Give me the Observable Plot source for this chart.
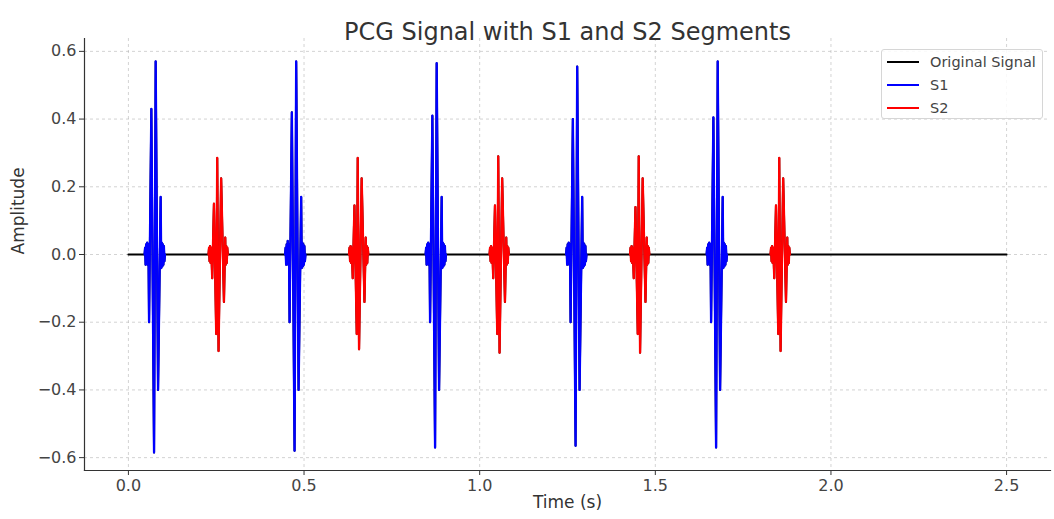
<!DOCTYPE html>
<html>
<head>
<meta charset="utf-8">
<script src="https://cdn.jsdelivr.net/npm/d3@7"></script>
<script src="https://cdn.jsdelivr.net/npm/@observablehq/plot@0.6"></script>
<style>
  html, body { margin: 0; padding: 0; background: white; }
  #wrap { position: relative; width: 1054px; height: 519px; font-family: "DejaVu Sans", sans-serif; }
  #legend { position: absolute; left: 881px; top: 49px; width: 162px; height: 70px;
    border: 1px solid #d6d6d6; border-radius: 3px; background: rgba(255,255,255,0.85);
    font-size: 14.5px; color: #444; box-sizing: border-box; }
  .row { position: absolute; left: 0; height: 20px; display: flex; align-items: center; }
  .sw { width: 32px; height: 2px; margin-left: 5px; margin-right: 11px; }
</style>
</head>
<body>
<div id="wrap">
  <div id="chart"></div>
  <div id="legend"></div>
</div>
<script>
// ---- data ----
const signalStart = 0.0;
const signalEnd = 2.5;

const xTicks = [0.0, 0.5, 1.0, 1.5, 2.0, 2.5];
const yTicks = [-0.6, -0.4, -0.2, 0.0, 0.2, 0.4, 0.6];

// S1 bursts (time in s, amplitude)
const s1Time1 = [0.046, 0.0475, 0.049, 0.0505, 0.052, 0.0535, 0.055, 0.057, 0.0588, 0.0653, 0.073, 0.0776, 0.0844, 0.0918, 0.0935, 0.095, 0.0965, 0.098, 0.0995, 0.101, 0.1025, 0.104];
const s1Amp1  = [0, 0.02, -0.03, 0.03, -0.025, 0.035, -0.03, 0.03, -0.20, 0.43, -0.585, 0.57, -0.40, 0.17, -0.04, 0.035, -0.035, 0.03, -0.03, 0.025, -0.02, 0];
const s1Time2 = [0.446, 0.4475, 0.449, 0.4505, 0.452, 0.4535, 0.455, 0.457, 0.4588, 0.4653, 0.473, 0.4776, 0.4844, 0.4918, 0.4935, 0.495, 0.4965, 0.498, 0.4995, 0.501, 0.5025, 0.504];
const s1Amp2  = [0, 0.02, -0.03, 0.03, -0.025, 0.04, -0.03, 0.03, -0.20, 0.42, -0.58, 0.57, -0.40, 0.17, -0.04, 0.035, -0.035, 0.03, -0.03, 0.025, -0.02, 0];
const s1Time3 = [0.846, 0.8475, 0.849, 0.8505, 0.852, 0.8535, 0.855, 0.857, 0.8588, 0.8653, 0.873, 0.8776, 0.8844, 0.8918, 0.8935, 0.895, 0.8965, 0.898, 0.8995, 0.901, 0.9025, 0.904];
const s1Amp3  = [0, 0.02, -0.03, 0.03, -0.025, 0.035, -0.03, 0.03, -0.20, 0.41, -0.57, 0.565, -0.40, 0.17, -0.04, 0.035, -0.035, 0.03, -0.03, 0.025, -0.02, 0];
const s1Time4 = [1.246, 1.2475, 1.249, 1.2505, 1.252, 1.2535, 1.255, 1.257, 1.2588, 1.2653, 1.273, 1.2776, 1.2844, 1.2918, 1.2935, 1.295, 1.2965, 1.298, 1.2995, 1.301, 1.3025, 1.304];
const s1Amp4  = [0, 0.02, -0.03, 0.03, -0.025, 0.035, -0.03, 0.03, -0.20, 0.40, -0.565, 0.555, -0.40, 0.17, -0.04, 0.035, -0.035, 0.03, -0.03, 0.025, -0.02, 0];
const s1Time5 = [1.646, 1.6475, 1.649, 1.6505, 1.652, 1.6535, 1.655, 1.657, 1.6588, 1.6653, 1.673, 1.6776, 1.6844, 1.6918, 1.6935, 1.695, 1.6965, 1.698, 1.6995, 1.701, 1.7025, 1.704];
const s1Amp5  = [0, 0.02, -0.03, 0.03, -0.025, 0.035, -0.03, 0.03, -0.20, 0.405, -0.57, 0.57, -0.40, 0.17, -0.04, 0.035, -0.035, 0.03, -0.03, 0.025, -0.02, 0];

// S2 bursts
const s2Time1 = [0.228, 0.2295, 0.231, 0.2325, 0.234, 0.2355, 0.237, 0.2386, 0.2435, 0.250, 0.2528, 0.2566, 0.264, 0.272, 0.2756, 0.277, 0.2785, 0.280, 0.2815, 0.283];
const s2Amp1  = [0, 0.02, -0.02, 0.025, -0.025, 0.02, -0.02, -0.07, 0.15, -0.235, 0.285, -0.285, 0.225, -0.14, 0.05, -0.03, 0.025, -0.025, 0.02, 0];
const s2Time2 = [0.628, 0.6295, 0.631, 0.6325, 0.634, 0.6355, 0.637, 0.6386, 0.6435, 0.650, 0.6528, 0.6566, 0.664, 0.672, 0.6756, 0.677, 0.6785, 0.680, 0.6815, 0.683];
const s2Amp2  = [0, 0.02, -0.02, 0.025, -0.025, 0.02, -0.02, -0.07, 0.145, -0.235, 0.285, -0.28, 0.225, -0.14, 0.05, -0.03, 0.025, -0.025, 0.02, 0];
const s2Time3 = [1.028, 1.0295, 1.031, 1.0325, 1.034, 1.0355, 1.037, 1.0386, 1.0435, 1.050, 1.0528, 1.0566, 1.064, 1.072, 1.0756, 1.077, 1.0785, 1.080, 1.0815, 1.083];
const s2Amp3  = [0, 0.02, -0.02, 0.025, -0.025, 0.02, -0.02, -0.07, 0.145, -0.235, 0.29, -0.29, 0.225, -0.14, 0.05, -0.03, 0.025, -0.025, 0.02, 0];
const s2Time4 = [1.428, 1.4295, 1.431, 1.4325, 1.434, 1.4355, 1.437, 1.4386, 1.4435, 1.450, 1.4528, 1.4566, 1.464, 1.472, 1.4756, 1.477, 1.4785, 1.480, 1.4815, 1.483];
const s2Amp4  = [0, 0.02, -0.02, 0.025, -0.025, 0.02, -0.02, -0.07, 0.14, -0.235, 0.29, -0.29, 0.225, -0.14, 0.05, -0.03, 0.025, -0.025, 0.02, 0];
const s2Time5 = [1.828, 1.8295, 1.831, 1.8325, 1.834, 1.8355, 1.837, 1.8386, 1.8435, 1.850, 1.8528, 1.8566, 1.864, 1.872, 1.8756, 1.877, 1.8785, 1.880, 1.8815, 1.883];
const s2Amp5  = [0, 0.02, -0.02, 0.025, -0.025, 0.02, -0.02, -0.07, 0.145, -0.235, 0.285, -0.285, 0.225, -0.14, 0.05, -0.03, 0.025, -0.025, 0.02, 0];

const seriesNames = ["Original Signal", "S1", "S2"];
const seriesColors = ["black", "blue", "red"];

// ---- build tables ----
function rows(times, amps, beat) { return times.map((t, i) => ({t, v: amps[i], beat})); }
const s1 = [
  ...rows(s1Time1, s1Amp1, 1), ...rows(s1Time2, s1Amp2, 2), ...rows(s1Time3, s1Amp3, 3),
  ...rows(s1Time4, s1Amp4, 4), ...rows(s1Time5, s1Amp5, 5)
];
const s2 = [
  ...rows(s2Time1, s2Amp1, 1), ...rows(s2Time2, s2Amp2, 2), ...rows(s2Time3, s2Amp3, 3),
  ...rows(s2Time4, s2Amp4, 4), ...rows(s2Time5, s2Amp5, 5)
];
const original = [{t: signalStart, v: 0}, ...s1, ...s2, {t: signalEnd, v: 0}].sort((a, b) => a.t - b.t);

const fmt = d3.format(".1f");
const gridStyle = {stroke: "#b0b0b0", strokeOpacity: 0.7, strokeWidth: 0.8, strokeDasharray: "3,3"};

const chart = Plot.plot({
  width: 1054,
  height: 519,
  marginLeft: 84,
  marginRight: 4,
  marginTop: 38,
  marginBottom: 49,
  style: {fontFamily: "DejaVu Sans", fontSize: "16px", color: "#333", background: "white"},
  x: {domain: [-0.125, 2.625]},
  y: {domain: [-0.638, 0.638]},
  marks: [
    Plot.ruleX(xTicks, gridStyle),
    Plot.ruleY(yTicks, gridStyle),
    Plot.line(original, {x: "t", y: "v", stroke: seriesColors[0], strokeWidth: 2}),
    Plot.line(s1, {x: "t", y: "v", z: "beat", stroke: seriesColors[1], strokeWidth: 2.3}),
    Plot.line(s2, {x: "t", y: "v", z: "beat", stroke: seriesColors[2], strokeWidth: 2.3}),
    Plot.axisX({ticks: xTicks, tickFormat: fmt, tickSize: 5, tickPadding: 4, fontSize: 16, label: null, stroke: "#333", fill: "#444"}),
    Plot.axisY({ticks: yTicks, tickFormat: fmt, tickSize: 5, tickPadding: 3, fontSize: 16, label: null, stroke: "#333", fill: "#444"}),
    Plot.frame({anchor: "left", stroke: "#333", strokeWidth: 1.2}),
    Plot.frame({anchor: "bottom", stroke: "#333", strokeWidth: 1.2}),
    Plot.text(["PCG Signal with S1 and S2 Segments"], {frameAnchor: "top", dy: -16, fontSize: 24, fill: "#333"}),
    Plot.text(["Time (s)"], {frameAnchor: "bottom", dy: 37, fontSize: 17, fill: "#333"}),
    Plot.text(["Amplitude"], {frameAnchor: "left", dx: -66, rotate: -90, fontSize: 17, fill: "#333"})
  ]
});
document.getElementById("chart").appendChild(chart);

const legend = document.getElementById("legend");
seriesNames.forEach((name, i) => {
  const row = document.createElement("div");
  row.className = "row";
  row.style.top = (2 + i * 23) + "px";
  const sw = document.createElement("div");
  sw.className = "sw";
  sw.style.background = seriesColors[i];
  const label = document.createElement("span");
  label.textContent = name;
  row.appendChild(sw);
  row.appendChild(label);
  legend.appendChild(row);
});
</script>
</body>
</html>
